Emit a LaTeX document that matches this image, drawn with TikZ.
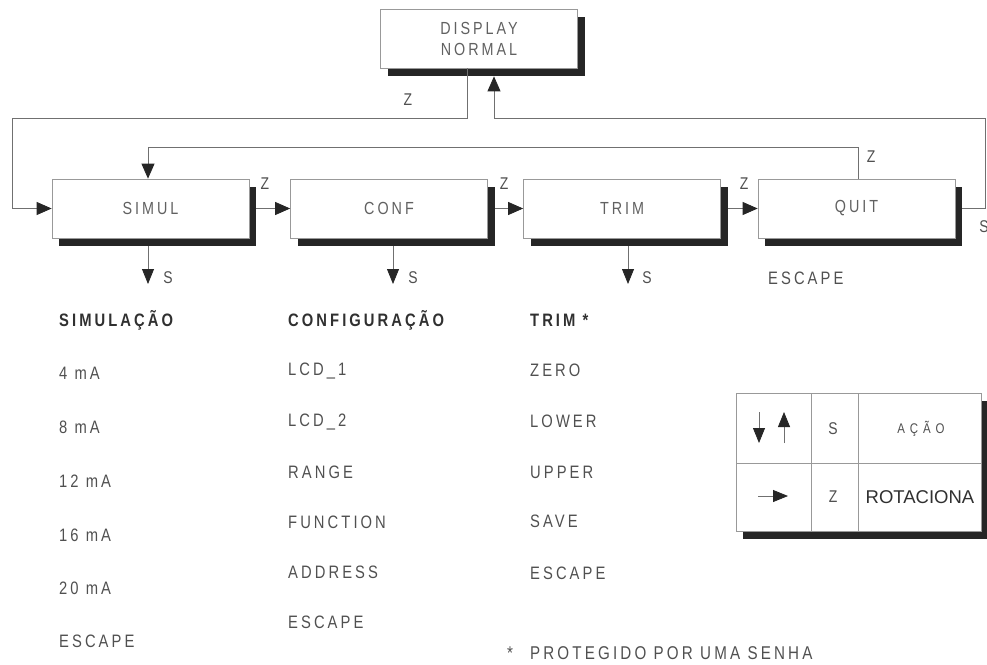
\documentclass[tikz,border=0pt]{standalone}
\usepackage{fontspec}
\setmainfont{Liberation Sans}
\newfontfamily\lab[FakeStretch=0.82,LetterSpace=17]{Liberation Sans}
\newfontfamily\labwide[FakeStretch=0.82,LetterSpace=35]{Liberation Sans}
\usetikzlibrary{arrows.meta,shadows}
\definecolor{txt}{HTML}{505050}
\definecolor{ttl}{HTML}{303030}
\definecolor{lin}{HTML}{707070}
\begin{document}
\begin{tikzpicture}[x=1pt,y=-1pt,
  box/.style={draw=black!40, fill=white, line width=0.7pt, minimum width=197pt,
    minimum height=59pt, inner sep=0pt, align=center, text=black!62,
    font=\lab\fontsize{17.5}{21}\selectfont,
    general shadow={fill=black!85, shadow xshift=7pt, shadow yshift=-8pt}},
  conn/.style={draw=lin, line width=0.8pt},
  arr/.style={-{Triangle[length=15pt,width=13pt,color=black!85,fill=black!85]}},
  sarr/.style={-{Triangle[length=15pt,width=12pt,color=black!85,fill=black!85]}},
  lbl/.style={text=txt, font=\lab\fontsize{17}{20}\selectfont, inner sep=0pt},
  item/.style={text=txt, font=\lab\fontsize{18}{20}\selectfont, inner sep=0pt, anchor=west},
  title/.style={text=ttl, font=\lab\bfseries\fontsize{18}{20}\selectfont, inner sep=0pt, anchor=west}]
\useasboundingbox (0,0) rectangle (987,664);

% boxes
\node[box] (disp) at (479,38.5) {DISPLAY\\NORMAL};
\node[box] (simul) at (150.5,208.5) {SIMUL};
\node[box] (conf) at (389,208.5) {CONF};
\node[box] (trim) at (622,208.5) {TRIM};
\node[box] (quit) at (856.5,208.5) {QUIT};

% connectors
\draw[conn,arr] ([xshift=-12pt]disp.south) |- (12,118) |- (simul.west);
\draw[conn,arr] ([xshift=7pt]quit.east) -| (985,118) -| ([xshift=15pt,yshift=-8pt]disp.south);
\draw[conn,arr] ([xshift=1.5pt]quit.north) |- (148,147) -- ([xshift=-2.5pt]simul.north);
\draw[conn,arr] ([xshift=7pt]simul.east) -- (conf.west);
\draw[conn,arr] ([xshift=7pt]conf.east) -- (trim.west);
\draw[conn,arr] ([xshift=7pt]trim.east) -- (quit.west);
\coordinate (sd1) at (148,284);
\coordinate (sd2) at (393,284);
\coordinate (sd3) at (628,284);
\draw[conn,sarr] ([xshift=-2.5pt,yshift=-8pt]simul.south) -- (sd1);
\draw[conn,sarr] ([xshift=4pt,yshift=-8pt]conf.south) -- (sd2);
\draw[conn,sarr] ([xshift=6pt,yshift=-8pt]trim.south) -- (sd3);

% connector labels
\node[lbl] (z0) at (408,100) {Z};
\node[lbl] (z1) at (265,184) {Z};
\node[lbl] (z2) at (504,184) {Z};
\node[lbl] (z3) at (744,184) {Z};
\node[lbl] (z4) at (871,157) {Z};
\node[lbl] (sq) at (984,227) {S};
\node[lbl] (s1) at (168,278) {S};
\node[lbl] (s2) at (413,278) {S};
\node[lbl] (s3) at (647,278) {S};
\node[item] (qesc) at (768,278) {ESCAPE};

% lists
\node[title] (t1) at (59,320) {SIMULAÇÃO};
\node[item] (a1) at (59,373) {4 mA};
\node[item] (a2) at (59,427) {8 mA};
\node[item] (a3) at (59,481) {12 mA};
\node[item] (a4) at (59,535) {16 mA};
\node[item] (a5) at (59,588) {20 mA};
\node[item] (a6) at (59,641) {ESCAPE};

\node[title] (t2) at (288,320) {CONFIGURAÇÃO};
\node[item] (b1) at (288,371) {LCD\_1};
\node[item] (b2) at (288,422) {LCD\_2};
\node[item] (b3) at (288,472) {RANGE};
\node[item] (b4) at (288,522) {FUNCTION};
\node[item] (b5) at (288,572) {ADDRESS};
\node[item] (b6) at (288,622) {ESCAPE};

\node[title] (t3) at (530,320) {TRIM *};
\node[item] (c1) at (530,370) {ZERO};
\node[item] (c2) at (530,421) {LOWER};
\node[item] (c3) at (530,472) {UPPER};
\node[item] (c4) at (530,521) {SAVE};
\node[item] (c5) at (530,573) {ESCAPE};

\node[item, font=\lab\fontsize{18.5}{20}\selectfont] (note) at (507,653) {*\hspace{17pt}PROTEGIDO POR UMA SENHA};

% legend table
\node[draw=black!40, fill=white, line width=0.7pt, minimum width=245pt, minimum height=138pt,
  inner sep=0pt, general shadow={fill=black!85, shadow xshift=7pt, shadow yshift=-8pt}]
  (tab) at (858.5,462) {};
\draw[draw=black!40, line width=0.7pt] (811,393) -- (811,531) (858,393) -- (858,531) (736,463) -- (981,463);
\draw[conn,sarr] (759,412) -- (759,443);
\draw[conn,sarr] (784,443) -- (784,412);
\draw[conn,sarr] (758,496) -- (788,496);
\node[lbl] (ts) at (833,429) {S};
\node[lbl] (tz) at (833,497) {Z};
\node[text=txt, font=\labwide\fontsize{14}{16}\selectfont, inner sep=0pt] (tacao) at (921,429) {AÇÃO};
\node[text=ttl, font=\fontsize{18.5}{20}\selectfont, inner sep=0pt] (trot) at (920,497) {ROTACIONA};
\end{tikzpicture}
\end{document}
